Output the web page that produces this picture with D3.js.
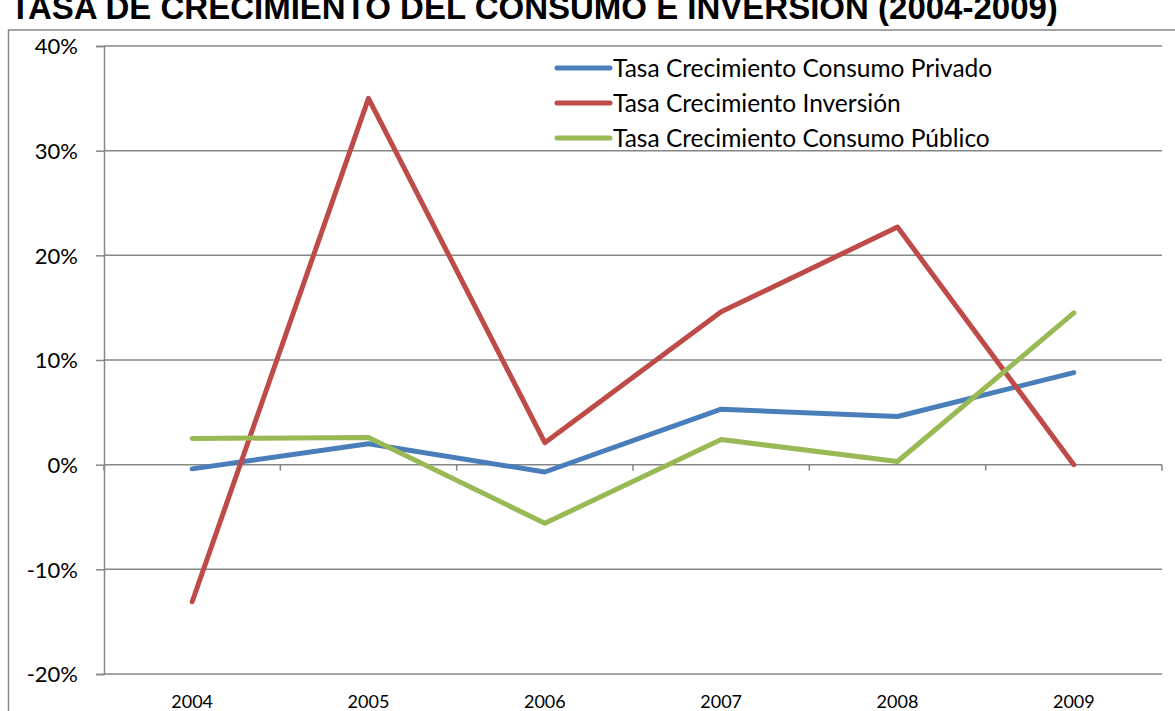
<!DOCTYPE html>
<html>
<head>
<meta charset="utf-8">
<script src="https://cdn.jsdelivr.net/npm/d3@7"></script>
<style>
  body { margin: 0; background: #fff; }
  svg { display: block; }
  text { font-family: Lato, "Open Sans", sans-serif; fill: #000; }
</style>
</head>
<body>
<svg id="chart" width="1175" height="711"></svg>
<script>
var years = ["2004", "2005", "2006", "2007", "2008", "2009"]
var privado   = [-0.4, 2.0, -0.7, 5.3, 4.6, 8.8]
var inversion = [-13.1, 35.0, 2.1, 14.6, 22.7, 0.0]
var publico   = [2.5, 2.6, -5.6, 2.4, 0.3, 14.5]
var yTicks = [-20, -10, 0, 10, 20, 30, 40]

var series = [
  {name: "Tasa Crecimiento Consumo Privado", values: privado, color: "#4a7ebb"},
  {name: "Tasa Crecimiento Inversión", values: inversion, color: "#be4b48"},
  {name: "Tasa Crecimiento Consumo Público", values: publico, color: "#98b954"}
]

var svg = d3.select("#chart"),
    margin = {top: 46, right: 13, bottom: 37, left: 104},
    width  = +svg.attr("width")  - margin.left - margin.right,
    height = +svg.attr("height") - margin.top  - margin.bottom;

// title, sits partly above the top edge like the original
svg.append("text")
  .attr("x", 534)
  .attr("y", 19)
  .attr("text-anchor", "middle")
  .style("font-family", "Liberation Sans, Arial, sans-serif")
  .style("font-weight", "bold")
  .style("font-size", "33px")
  .text("TASA DE CRECIMIENTO DEL CONSUMO E INVERSIÓN (2004-2009)")

// outer chart border
svg.append("path")
  .attr("d", "M8.5,711 V30 H1175")
  .attr("fill", "none")
  .attr("stroke", "#868686")
  .attr("stroke-width", 1.5)

var x = d3.scaleBand().domain(years).range([0, width])
var y = d3.scaleLinear().domain([-20, 40]).range([height, 0])

var g = svg.append("g")
  .attr("transform", "translate(" + margin.left + "," + margin.top + ")")

// gridlines
g.selectAll(".grid")
  .data(yTicks)
  .enter().append("line")
    .attr("x1", 0).attr("x2", width)
    .attr("y1", function(d) { return y(d) }).attr("y2", function(d) { return y(d) })
    .attr("stroke", "#868686")
    .attr("stroke-width", 1.5)

// y axis
var yAxis = d3.axisLeft(y).tickValues(yTicks).tickSize(8).tickPadding(18)
  .tickFormat(function(d) { return d + "%" })
var ya = g.append("g").call(yAxis)
ya.select(".domain").attr("stroke", "#868686").attr("stroke-width", 1.5)
ya.selectAll(".tick line").attr("stroke", "#868686").attr("stroke-width", 1.5)
ya.selectAll("text").style("font-size", "22px").style("font-family", "Lato, sans-serif").attr("dy", "0.35em")

// x axis on the zero line, ticks at band edges
var edges = years.map(function(d) { return x(d) }).concat([width])
g.append("g").selectAll("line")
  .data(edges)
  .enter().append("line")
    .attr("x1", function(d) { return d }).attr("x2", function(d) { return d })
    .attr("y1", y(0)).attr("y2", y(0) + 6)
    .attr("stroke", "#868686")
    .attr("stroke-width", 1.5)

g.selectAll(".xlabel")
  .data(years)
  .enter().append("text")
    .attr("x", function(d) { return x(d) + x.bandwidth() / 2 })
    .attr("y", height + 34)
    .attr("text-anchor", "middle")
    .style("font-size", "18px")
    .text(function(d) { return d })

// lines
var line = d3.line()
  .x(function(d, i) { return x(years[i]) + x.bandwidth() / 2 })
  .y(function(d) { return y(d) })

g.selectAll(".series")
  .data(series)
  .enter().append("path")
    .attr("d", function(s) { return line(s.values) })
    .attr("fill", "none")
    .attr("stroke", function(s) { return s.color })
    .attr("stroke-width", 5)
    .attr("stroke-linejoin", "round")
    .attr("stroke-linecap", "round")

// legend
var legend = svg.append("g").attr("transform", "translate(555,68)")
var item = legend.selectAll("g")
  .data(series)
  .enter().append("g")
    .attr("transform", function(d, i) { return "translate(0," + i * 35 + ")" })
item.append("line")
  .attr("x1", 2).attr("x2", 55)
  .attr("stroke", function(d) { return d.color })
  .attr("stroke-width", 5)
  .attr("stroke-linecap", "round")
item.append("text")
  .attr("x", 58)
  .attr("dy", "0.35em")
  .style("font-size", "24.5px")
  .text(function(d) { return d.name })
</script>
</body>
</html>
